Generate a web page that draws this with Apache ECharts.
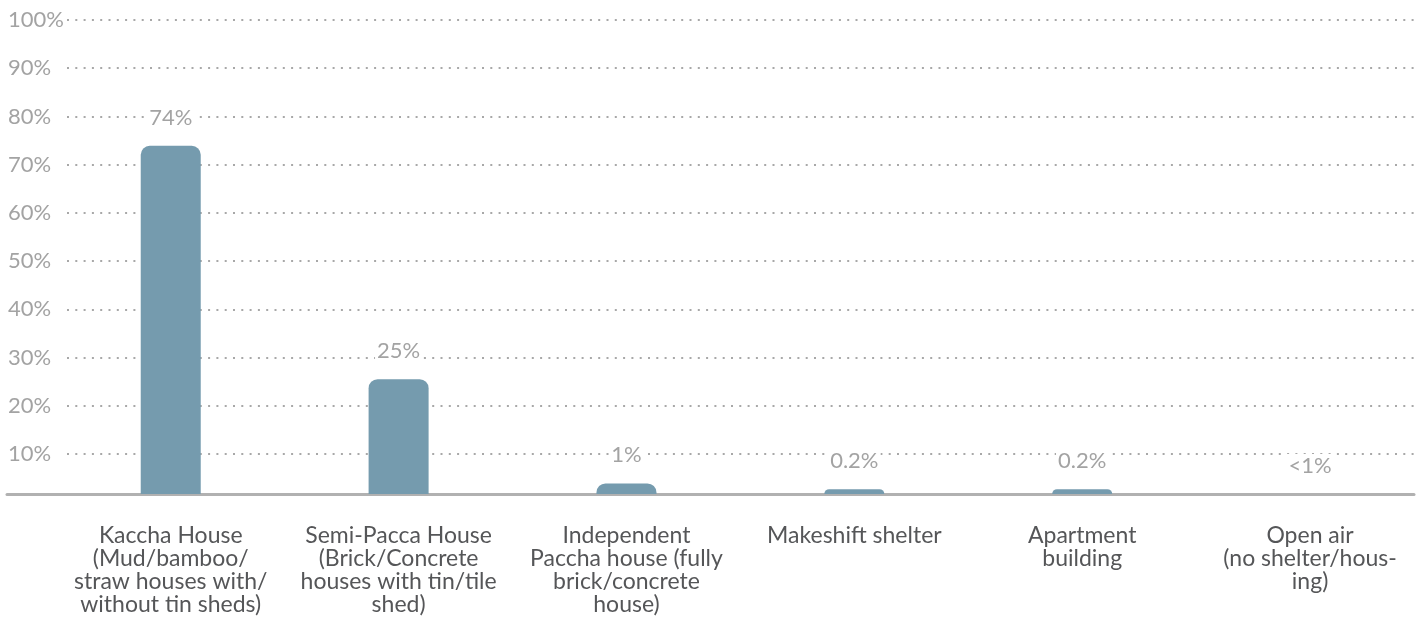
<!DOCTYPE html>
<html>
<head>
<meta charset="utf-8">
<script src="https://cdn.jsdelivr.net/npm/echarts@6/dist/echarts.min.js"></script>
<style>
html,body{margin:0;padding:0;background:#fff;}
#chart{width:1424px;height:623px;}
</style>
</head>
<body>
<div id="chart"></div>
<script>
// ---- data ----
const categories = [
  'Kaccha House\n(Mud/bamboo/\nstraw houses with/\nwithout tin sheds)',
  'Semi-Pacca House\n(Brick/Concrete\nhouses with tin/tile\nshed)',
  'Independent\nPaccha house (fully\nbrick/concrete\nhouse)',
  'Makeshift shelter',
  'Apartment\nbuilding',
  'Open air\n(no shelter/hous-\ning)'
];
// bar heights as drawn in the picture (percent)
const barValues = [73.9, 25.5, 3.9, 2.7, 2.7, 0];
// value labels printed above the bars
const valueLabels = ['74%', '25%', '1%', '0.2%', '0.2%', '<1%'];
// gridline tick range (percent)
const tickMin = 10, tickMax = 100, tickStep = 10;

const FONT = 'Lato';
const GREY = '#a3a3a3';

const chart = echarts.init(document.getElementById('chart'), null, {renderer: 'canvas'});
chart.setOption({
  animation: false,
  backgroundColor: '#ffffff',
  grid: [
    // bars
    {left: 56.8, right: -3.2, top: 20, bottom: 129},
    // gridlines & y labels
    {left: 67, right: 9, top: 20, bottom: 169},
    // baseline
    {left: 7, right: 10, top: 20, bottom: 129}
  ],
  xAxis: [
    {
      gridIndex: 0, type: 'category', data: categories,
      axisLine: {show: false}, axisTick: {show: false}, splitLine: {show: false},
      axisLabel: {
        interval: 0, margin: 30, color: '#555658', fontFamily: FONT,
        fontSize: 23, lineHeight: 23, align: 'center', verticalAlign: 'top'
      }
    },
    {gridIndex: 1, type: 'value', show: false},
    {
      gridIndex: 2, type: 'value', show: true,
      axisLine: {show: true, lineStyle: {color: '#b1b1b1', width: 3}},
      axisTick: {show: false}, axisLabel: {show: false}, splitLine: {show: false}
    }
  ],
  yAxis: [
    {gridIndex: 0, type: 'value', min: 1.7, max: 100, startValue: 1.7, show: false},
    {
      gridIndex: 1, type: 'value', min: tickMin, max: tickMax, interval: tickStep,
      axisLine: {show: false}, axisTick: {show: false},
      axisLabel: {
        margin: 59, align: 'left', color: GREY, fontFamily: FONT, fontSize: 22,
        formatter: '{value}%'
      },
      splitLine: {show: true, lineStyle: {color: '#a8a8a8', width: 2, type: [2, 6.3]}}
    },
    {gridIndex: 2, type: 'value', show: false}
  ],
  series: [
    {
      type: 'bar', xAxisIndex: 0, yAxisIndex: 0,
      data: barValues, barWidth: 60, clip: true, z: 2,
      itemStyle: {color: '#759bae', borderRadius: [9, 9, 0, 0]},
      label: {
        show: true, position: 'top', distance: 16,
        color: GREY, fontFamily: FONT, fontSize: 22, lineHeight: 24,
        backgroundColor: '#ffffff', padding: [0, 2],
        formatter: p => valueLabels[p.dataIndex]
      }
    }
  ]
});
</script>
</body>
</html>
